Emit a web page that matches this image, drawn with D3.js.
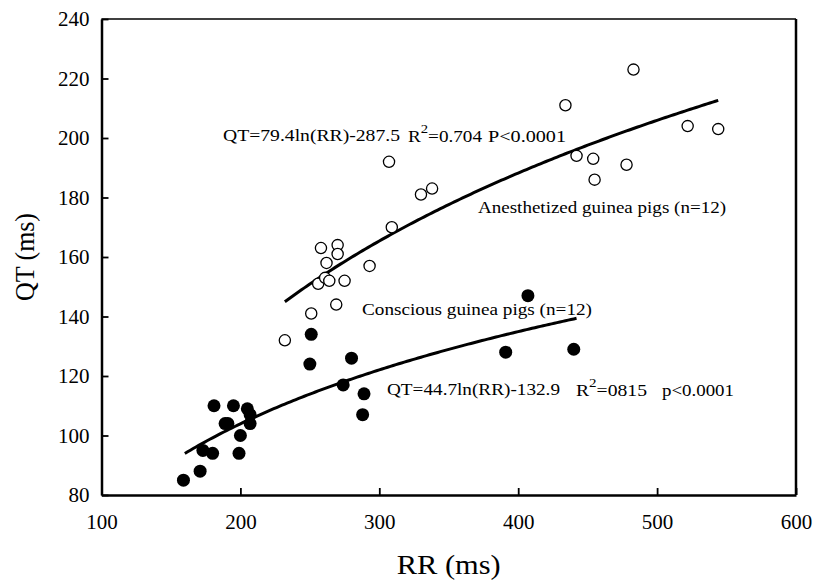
<!DOCTYPE html>
<html>
<head>
<meta charset="utf-8">
<script src="https://cdn.jsdelivr.net/npm/d3@7"></script>
<style>
  body { margin: 0; background: #fff; }
  svg text { font-family: "Liberation Serif", "Times New Roman", Times, serif; fill: #000; }
</style>
</head>
<body>
<svg class="canvas" width="814" height="581"></svg>
<script>
// anesthetized guinea pigs (open circles): RR, QT in ms
const anesRR = [232, 251, 269, 256, 261, 264, 275, 262, 258, 270, 270, 293, 309, 307, 330, 338, 434, 483, 442, 454, 455, 478, 522, 544];
const anesQT = [132, 141, 144, 151, 153, 152, 152, 158, 163, 164, 161, 157, 170, 192, 181, 183, 211, 223, 194, 193, 186, 191, 204, 203];

// conscious guinea pigs (filled circles)
const consRR = [159, 171, 173, 180, 181, 195, 191, 189, 205, 207, 207, 200, 199, 250, 251, 274, 280, 289, 288, 391, 407, 440];
const consQT = [85, 88, 95, 94, 110, 110, 104, 104, 109, 107, 104, 100, 94, 124, 134, 117, 126, 114, 107, 128, 147, 129];

// fitted curves QT = a*ln(RR) + b, drawn over the RR range shown
const anesFit = { a: 79.4, b: -287.5, from: 232, to: 545 };
const consFit = { a: 44.7, b: -132.9, from: 160, to: 442 };

const xTicks = [100, 200, 300, 400, 500, 600];
const yTicks = [80, 100, 120, 140, 160, 180, 200, 220, 240];

const svg = d3.select('.canvas');

const x = d3.scaleLinear().domain([100, 600]).range([101.5, 796]);
const y = d3.scaleLinear().domain([80, 240]).range([495, 19]);

// top and right frame lines
svg.append('line')
  .attr('x1', x(100)).attr('x2', x(600))
  .attr('y1', y(240)).attr('y2', y(240))
  .attr('stroke', '#000').attr('stroke-width', 1.6);
svg.append('line')
  .attr('x1', x(600)).attr('x2', x(600))
  .attr('y1', y(240)).attr('y2', y(80))
  .attr('stroke', '#000').attr('stroke-width', 2.5);

// axes with inward ticks
const xAxis = d3.axisBottom(x).tickValues(xTicks).tickSizeInner(-7).tickSizeOuter(0).tickPadding(19);
const yAxis = d3.axisLeft(y).tickValues(yTicks).tickSizeInner(-7).tickSizeOuter(0).tickPadding(12);

const gx = svg.append('g').attr('transform', `translate(0, ${y(80)})`).call(xAxis);
const gy = svg.append('g').attr('transform', `translate(${x(100)}, 0)`).call(yAxis);

[gx, gy].forEach((g) => {
  g.attr('font-family', null);
  g.select('.domain').attr('stroke-width', 2.5);
  g.selectAll('.tick line').attr('stroke-width', 1.8);
  g.selectAll('.tick text')
    .style('font-size', '21px');
});

// axis titles
svg.append('text')
  .attr('transform', `translate(34, ${(y(80) + y(240)) / 2}) rotate(-90)`)
  .attr('text-anchor', 'middle')
  .style('font-size', '27px')
  .attr('textLength', 88)
  .attr('lengthAdjust', 'spacingAndGlyphs')
  .text('QT (ms)');
svg.append('text')
  .attr('x', (x(100) + x(600)) / 2)
  .attr('y', 574)
  .attr('text-anchor', 'middle')
  .style('font-size', '28px')
  .attr('textLength', 104)
  .attr('lengthAdjust', 'spacingAndGlyphs')
  .text('RR (ms)');

// fitted curves
const fitLine = d3.line().x((d) => x(d[0])).y((d) => y(d[1]));
[anesFit, consFit].forEach((f) => {
  const pts = d3.range(f.from, f.to + 1, 2).map((rr) => [rr, f.a * Math.log(rr) + f.b]);
  svg.append('path')
    .attr('d', fitLine(pts))
    .attr('fill', 'none')
    .attr('stroke', '#000')
    .attr('stroke-width', 3);
});

// data points
svg.append('g')
  .selectAll('circle')
  .data(d3.zip(anesRR, anesQT))
  .enter()
  .append('circle')
  .attr('cx', (d) => x(d[0]))
  .attr('cy', (d) => y(d[1]))
  .attr('r', 5.6)
  .attr('fill', '#fff')
  .attr('stroke', '#000')
  .attr('stroke-width', 1.3);

svg.append('g')
  .selectAll('circle')
  .data(d3.zip(consRR, consQT))
  .enter()
  .append('circle')
  .attr('cx', (d) => x(d[0]))
  .attr('cy', (d) => y(d[1]))
  .attr('r', 6.5)
  .attr('fill', '#000');

// annotations: [x, baseline, width, parts]
const notes = [
  [223, 141, 177, ['QT=79.4ln(RR)-287.5']],
  [408, 142, 74, ['R', '2', '=0.704']],
  [488, 142, 78, ['P<0.0001']],
  [478, 213, 248, ['Anesthetized guinea pigs (n=12)']],
  [362, 315, 230, ['Conscious guinea pigs (n=12)']],
  [387, 395, 173, ['QT=44.7ln(RR)-132.9']],
  [576, 396, 71, ['R', '2', '=0815']],
  [662, 396, 72, ['p<0.0001']]
];
notes.forEach(([nx, ny, w, parts]) => {
  const t = svg.append('text')
    .attr('x', nx)
    .attr('y', ny)
    .style('font-size', '17px')
    .attr('textLength', w)
    .attr('lengthAdjust', 'spacingAndGlyphs');
  if (parts.length === 1) {
    t.text(parts[0]);
  } else {
    t.append('tspan').text(parts[0]);
    t.append('tspan').attr('dy', -9).style('font-size', '13px').text(parts[1]);
    t.append('tspan').attr('dy', 9).text(parts[2]);
  }
});
</script>
</body>
</html>
